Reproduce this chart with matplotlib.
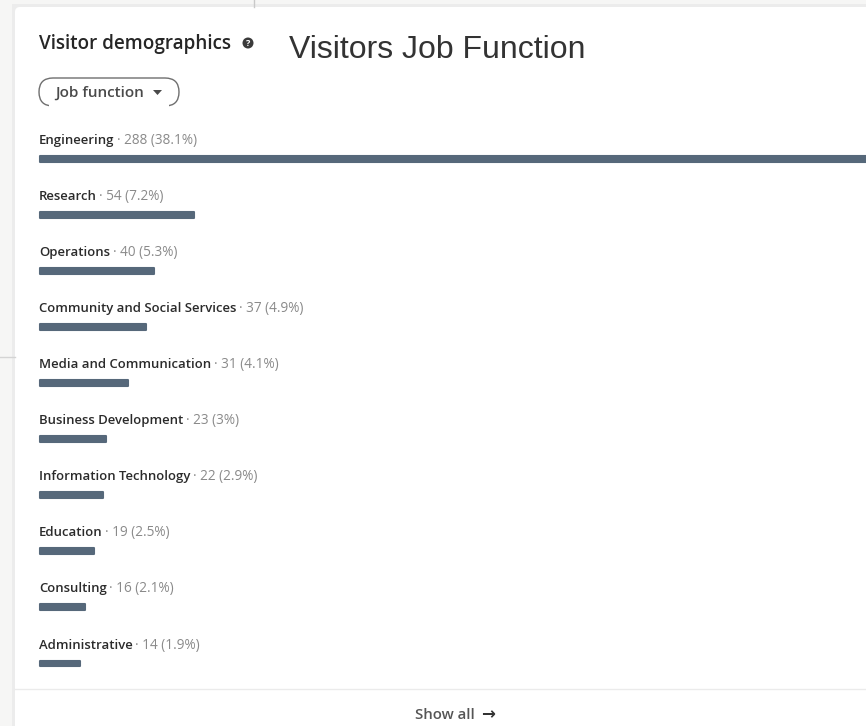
#!/usr/bin/env python3
# -*- coding: utf-8 -*-
import numpy as np
import matplotlib
matplotlib.use("Agg")
import matplotlib.pyplot as plt
from matplotlib.patches import FancyBboxPatch, Rectangle, Polygon, Circle

categories = ["Engineering", "Research", "Operations", "Community and Social Services",
              "Media and Communication", "Business Development", "Information Technology",
              "Education", "Consulting", "Administrative"]
counts = [288, 54, 40, 37, 31, 23, 22, 19, 16, 14]
shares = ["38.1%", "7.2%", "5.3%", "4.9%", "4.1%", "3%", "2.9%", "2.5%", "2.1%", "1.9%"]

W, H = 866, 726
BAR = "#56687a"
DARK = "#2b2b2b"
GREY = "#8a8a8a"
FONT = "Open Sans"

fig = plt.figure(figsize=(W / 100, H / 100), dpi=100, facecolor="#f6f6f5")

# page chrome, drawn in pixel coordinates
bg = fig.add_axes([0, 0, 1, 1])
bg.set_xlim(0, W)
bg.set_ylim(H, 0)
bg.axis("off")
bg.plot([254, 254], [0, 7], color="#c9c9c9", lw=1)
bg.plot([0, 15], [357, 357], color="#d4d4d4", lw=1)
bg.add_patch(Rectangle((12, 4), W, H, fc="#ececec", ec="none"))
bg.add_patch(FancyBboxPatch((19, 11), W, H, boxstyle="round,pad=4,rounding_size=5",
                            fc="white", ec="none"))
bg.plot([15, W], [689, 689], color="#ebebeb", lw=1)

bg.text(39, 49.5, "Visitor demographics", fontsize=13.6, fontweight="semibold", family=FONT,
        color="#262626", va="baseline")
bg.add_patch(Circle((248, 43), 5.5, fc="#3a3a3a", ec="none"))
bg.text(248, 43, "?", fontsize=6.5, fontweight="bold", color="white", ha="center",
        va="center_baseline", family=FONT)
bg.text(289, 58, "Visitors Job Function", fontsize=23, family="Liberation Sans",
        color="#333333", va="baseline")

# job function pill, its lower edge is cut off in the middle
bg.add_patch(FancyBboxPatch((39, 78), 140, 28, boxstyle="round,pad=0,rounding_size=14",
                            fc="white", ec="#6f6f6f", lw=1))
bg.add_patch(Rectangle((49, 103), 120, 5, fc="white", ec="none"))
bg.text(55, 97, "Job function", fontsize=11, fontweight="semibold", family=FONT,
        color="#4a4a4a", va="baseline")
bg.add_patch(Polygon([[153, 90], [162, 90], [157.5, 95]], fc="#4a4a4a", ec="none"))

bg.text(445, 719, "Show all", fontsize=10.7, fontweight="semibold", family=FONT,
        color="#555555", ha="center", va="baseline")
bg.text(488, 719, "\u2192", fontsize=12, fontweight="bold", family="DejaVu Sans",
        color="#333333", ha="center", va="baseline")

# bars
ax = fig.add_axes([39.5 / W, 1 - 691 / H, (W - 39.5) / W, (691 - 130) / H])
ax.patch.set_alpha(0)
ax.set_xlim(0, 288)
ax.set_ylim(9.5, -0.5)
ax.axis("off")
y = np.arange(len(categories))
ax.barh(y + 0.01, counts, height=0.105, color=BAR, edgecolor=BAR, linewidth=1.5,
        joinstyle="round", clip_on=False)

renderer = fig.canvas.get_renderer()
for i in y:
    name = ax.annotate(categories[i], xy=(0, i), xytext=(-0.4, 10.4), textcoords="offset points",
                       fontsize=9.45, fontweight="semibold", family=FONT, color=DARK,
                       va="baseline")
    w = name.get_window_extent(renderer).width * 72 / fig.dpi
    ax.annotate("\u00b7 %d (%s)" % (counts[i], shares[i]), xy=(0, i), xytext=(w + 1.5, 10.4),
                textcoords="offset points", fontsize=9.8, family=FONT, color=GREY,
                va="baseline")

fig.savefig("out.png", dpi=100)
